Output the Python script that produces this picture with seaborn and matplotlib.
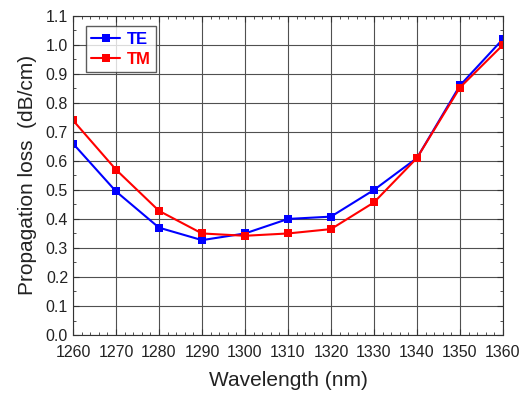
import matplotlib
matplotlib.use('Agg')
import matplotlib.pyplot as plt
from matplotlib.ticker import MultipleLocator
import seaborn as sns
import pandas as pd

# wavelength (nm) and measured propagation loss (dB/cm)
wavelength = [1260, 1270, 1280, 1290, 1300, 1310, 1320, 1330, 1340, 1350, 1360]
loss_te = [0.66, 0.495, 0.37, 0.327, 0.35, 0.40, 0.408, 0.50, 0.61, 0.86, 1.02]
loss_tm = [0.74, 0.57, 0.428, 0.35, 0.342, 0.35, 0.365, 0.457, 0.61, 0.853, 1.0]
modes = ['TE', 'TM']
colors = ['#0000ff', '#ff0000']

df = pd.DataFrame({
    'Wavelength': wavelength * 2,
    'Loss': loss_te + loss_tm,
    'Mode': ['TE'] * len(wavelength) + ['TM'] * len(wavelength),
})

sns.set_style('ticks')
plt.rcParams['font.family'] = ['Liberation Sans', 'DejaVu Sans']

fig = plt.figure(figsize=(5.25, 3.96), dpi=100)
ax = fig.add_axes([0.139, 0.154, 0.819, 0.806])

sns.lineplot(data=df, x='Wavelength', y='Loss', hue='Mode', hue_order=modes,
             palette=colors, marker='s', markersize=6, markeredgewidth=0,
             linewidth=1.5, ax=ax)

ax.set_xlim(1260, 1360)
ax.set_ylim(0, 1.1)
ax.xaxis.set_major_locator(MultipleLocator(10))
ax.xaxis.set_minor_locator(MultipleLocator(2))
ax.yaxis.set_major_locator(MultipleLocator(0.1))
ax.yaxis.set_minor_locator(MultipleLocator(0.05))
ax.yaxis.set_major_formatter(plt.FormatStrFormatter('%.1f'))
ax.grid(True, which='major', color='#505050', linewidth=0.8)
ax.set_axisbelow(True)
ax.tick_params(which='both', direction='in', top=True, right=True, labelsize=11.5,
               color='#333333', labelcolor='#222222')
ax.tick_params(axis='x', pad=7)
ax.tick_params(which='major', length=4)
ax.tick_params(which='minor', length=2)
for s in ax.spines.values():
    s.set_color('#333333')

ax.set_xlabel('Wavelength (nm)', fontsize=15, labelpad=8, color='#222222')
ax.set_ylabel('Propagation loss  (dB/cm)', fontsize=15, labelpad=6, color='#222222')

leg = ax.legend(loc='upper left', fontsize=12, frameon=True, fancybox=False,
                edgecolor='#333333', handlelength=1.7, borderpad=0.35,
                labelspacing=0.3, handletextpad=0.4,
                bbox_to_anchor=(0.01, 0.995))
leg.get_frame().set_linewidth(1.0)
for txt, c in zip(leg.get_texts(), colors):
    txt.set_color(c)
    txt.set_fontweight('bold')

fig.savefig('out.png', dpi=100)
